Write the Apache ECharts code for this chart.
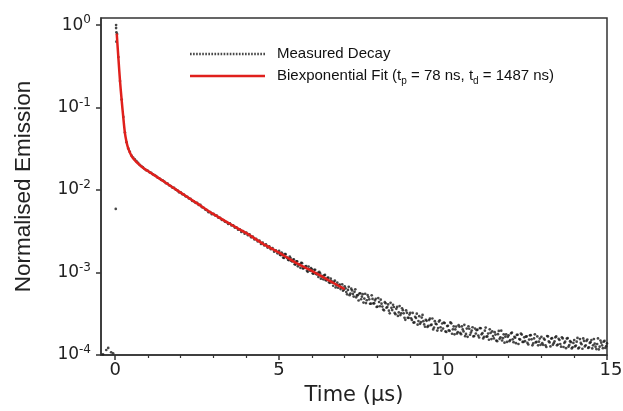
<!DOCTYPE html>
<html>
<head>
<meta charset="utf-8">
<title>Emission decay</title>
<script src="https://cdn.jsdelivr.net/npm/echarts@6.0.0/dist/echarts.min.js"></script>
<style>
  html, body { margin: 0; padding: 0; background: #fff; }
  #chart { width: 623px; height: 411px; }
</style>
</head>
<body>
<div id="chart"></div>
<script>
// measured points before the pulse (time in µs, normalised emission)
var preTrigger = [[-0.37, 1.02e-4], [-0.27, 1.15e-4], [-0.21, 1.22e-4], [-0.12, 1.08e-4], [-0.06, 1.05e-4]];

// measured points during the pulse and fast component
var risePoints = [
  [0.02, 0.0059], [0.03, 1.0], [0.03, 0.92], [0.04, 0.82], [0.04, 0.63], [0.06, 0.78],
  [0.1, 0.41], [0.15, 0.21], [0.2, 0.125], [0.25, 0.077], [0.3, 0.05], [0.35, 0.038],
  [0.4, 0.032], [0.45, 0.029]
];

// measured slow tail
var measuredDecay = [
  [0.5, 0.0262], [0.55, 0.0248], [0.6, 0.0236], [0.65, 0.0224], [0.7, 0.0214], [0.75, 0.0202], [0.8, 0.0195], [0.85, 0.0188], [0.9, 0.0180], [0.95, 0.0174],
  [1.0, 0.0171], [1.05, 0.0164], [1.1, 0.0162], [1.15, 0.0155], [1.2, 0.0152], [1.25, 0.0148], [1.3, 0.0141], [1.35, 0.0139], [1.4, 0.0133], [1.45, 0.0131],
  [1.5, 0.0127], [1.55, 0.0121], [1.6, 0.0120], [1.65, 0.0114], [1.7, 0.0112], [1.75, 0.0107], [1.8, 0.0106], [1.85, 0.0101], [1.9, 0.0099], [1.95, 0.0094],
  [2.0, 0.0094], [2.05, 0.0089], [2.1, 0.0088], [2.15, 0.0084], [2.2, 0.0083], [2.25, 0.0079], [2.3, 0.0078], [2.35, 0.0074], [2.4, 0.0073], [2.45, 0.0070],
  [2.5, 0.0070], [2.55, 0.0066], [2.6, 0.0066], [2.65, 0.0062], [2.7, 0.0061], [2.75, 0.0058], [2.8, 0.0057], [2.85, 0.0054], [2.9, 0.0054], [2.95, 0.0051],
  [3.0, 0.00515], [3.05, 0.00492], [3.1, 0.00489], [3.15, 0.00463], [3.2, 0.00461], [3.25, 0.00436], [3.3, 0.00432], [3.35, 0.00413], [3.4, 0.00408], [3.45, 0.00388],
  [3.5, 0.00395], [3.55, 0.00372], [3.6, 0.00374], [3.65, 0.00351], [3.7, 0.00352], [3.75, 0.00331], [3.8, 0.00334], [3.85, 0.00311], [3.9, 0.00318], [3.95, 0.00296],
  [4.0, 0.00304], [4.05, 0.00284], [4.1, 0.00290], [4.15, 0.00267], [4.2, 0.00273], [4.25, 0.00252], [4.3, 0.00256], [4.35, 0.00238], [4.4, 0.00244], [4.45, 0.00222],
  [4.5, 0.00230], [4.55, 0.00213], [4.6, 0.00220], [4.65, 0.00201], [4.7, 0.00208], [4.75, 0.00192], [4.8, 0.00198], [4.85, 0.00179], [4.9, 0.00186], [4.95, 0.00171],
  [5.0, 0.00183], [5.05, 0.00162], [5.1, 0.00168], [5.15, 0.00150], [5.2, 0.00167], [5.25, 0.00150], [5.3, 0.00141], [5.35, 0.00150], [5.4, 0.00136], [5.45, 0.00144],
  [5.5, 0.00125], [5.55, 0.00137], [5.6, 0.00126], [5.65, 0.00114], [5.7, 0.00130], [5.75, 0.00113], [5.8, 0.00118], [5.85, 0.00105], [5.9, 0.00118], [5.95, 0.00105],
  [6.0, 0.00109], [6.05, 0.000969], [6.1, 0.00108], [6.15, 0.000946], [6.2, 0.000884], [6.25, 0.000983], [6.3, 0.000913], [6.35, 0.000828], [6.4, 0.000936], [6.45, 0.000804],
  [6.5, 0.000867], [6.55, 0.000751], [6.6, 0.000785], [6.65, 0.000691], [6.7, 0.000798], [6.75, 0.000700], [6.8, 0.000654], [6.85, 0.000713], [6.9, 0.000662], [6.95, 0.000601],
  [7.0, 0.000680], [7.05, 0.000580], [7.1, 0.000616], [7.15, 0.000532], [7.2, 0.000637], [7.25, 0.000550], [7.3, 0.000583], [7.35, 0.000500], [7.4, 0.000532], [7.45, 0.000557],
  [7.5, 0.000474], [7.55, 0.000546], [7.6, 0.000483], [7.65, 0.000426], [7.7, 0.000533], [7.75, 0.000473], [7.8, 0.000419], [7.85, 0.000479], [7.9, 0.000423], [7.95, 0.000481],
  [8.0, 0.000387], [8.05, 0.000439], [8.1, 0.000469], [8.15, 0.000387], [8.2, 0.000348], [8.25, 0.000424], [8.3, 0.000382], [8.35, 0.000345], [8.4, 0.000429], [8.45, 0.000351],
  [8.5, 0.000382], [8.55, 0.000313], [8.6, 0.000383], [8.65, 0.000328], [8.7, 0.000305], [8.75, 0.000369], [8.8, 0.000320], [8.85, 0.000267], [8.9, 0.000325], [8.95, 0.000282],
  [9.0, 0.000325], [9.05, 0.000266], [9.1, 0.000247], [9.15, 0.000291], [9.2, 0.000317], [9.25, 0.000258], [9.3, 0.000239], [9.35, 0.000284], [9.4, 0.000257], [9.45, 0.000220],
  [9.5, 0.000260], [9.55, 0.000225], [9.6, 0.000276], [9.65, 0.000233], [9.7, 0.000204], [9.75, 0.000257], [9.8, 0.000236], [9.85, 0.000212], [9.9, 0.000263], [9.95, 0.000198],
  [10.0, 0.000209], [10.05, 0.000244], [10.1, 0.000190], [10.15, 0.000226], [10.2, 0.000196], [10.25, 0.000242], [10.3, 0.000205], [10.35, 0.000178], [10.4, 0.000221], [10.45, 0.000189],
  [10.5, 0.000220], [10.55, 0.000179], [10.6, 0.000204], [10.65, 0.000232], [10.7, 0.000180], [10.75, 0.000166], [10.8, 0.000208], [10.85, 0.000187], [10.9, 0.000217], [10.95, 0.000170],
  [11.0, 0.000182], [11.05, 0.000203], [11.1, 0.000163], [11.15, 0.000211], [11.2, 0.000184], [11.25, 0.000166], [11.3, 0.000215], [11.35, 0.000168], [11.4, 0.000153], [11.45, 0.000185],
  [11.5, 0.000193], [11.55, 0.000159], [11.6, 0.000177], [11.65, 0.000147], [11.7, 0.000196], [11.75, 0.000164], [11.8, 0.000150], [11.85, 0.000178], [11.9, 0.000167], [11.95, 0.000144],
  [12.0, 0.000173], [12.05, 0.000152], [12.1, 0.000187], [12.15, 0.000143], [12.2, 0.000162], [12.25, 0.000175], [12.3, 0.000136], [12.35, 0.000154], [12.4, 0.000177], [12.45, 0.000144],
  [12.5, 0.000147], [12.55, 0.000168], [12.6, 0.000134], [12.65, 0.000173], [12.7, 0.000155], [12.75, 0.000138], [12.8, 0.000178], [12.85, 0.000144], [12.9, 0.000131], [12.95, 0.000158],
  [13.0, 0.000166], [13.05, 0.000133], [13.1, 0.000153], [13.15, 0.000125], [13.2, 0.000168], [13.25, 0.000142], [13.3, 0.000158], [13.35, 0.000133], [13.4, 0.000146], [13.45, 0.000168],
  [13.5, 0.000134], [13.55, 0.000152], [13.6, 0.000126], [13.65, 0.000159], [13.7, 0.000140], [13.75, 0.000121], [13.8, 0.000160], [13.85, 0.000132], [13.9, 0.000143], [13.95, 0.000124],
  [14.0, 0.000152], [14.05, 0.000130], [14.1, 0.000161], [14.15, 0.000123], [14.2, 0.000140], [14.25, 0.000119], [14.3, 0.000148], [14.35, 0.000131], [14.4, 0.000154], [14.45, 0.000124],
  [14.5, 0.000143], [14.55, 0.000120], [14.6, 0.000156], [14.65, 0.000126], [14.7, 0.000136], [14.75, 0.000117], [14.8, 0.000150], [14.85, 0.000131], [14.9, 0.000145], [14.95, 0.000122],
  [15.0, 0.000138]
];

// second sweep of tail points, between the ones above
var measuredDecayB = [
  [5.025, 0.00165], [5.075, 0.00174], [5.125, 0.00152], [5.175, 0.00167], [5.225, 0.00154], [5.275, 0.00143], [5.325, 0.00156], [5.375, 0.00138], [5.425, 0.00142], [5.475, 0.00126],
  [5.525, 0.00137], [5.575, 0.00119], [5.625, 0.00126], [5.675, 0.00131], [5.725, 0.00112], [5.775, 0.00115], [5.825, 0.00120], [5.875, 0.00102], [5.925, 0.00109], [5.975, 0.00113],
  [6.025, 0.000978], [6.075, 0.00108], [6.125, 0.000968], [6.175, 0.000992], [6.225, 0.00102], [6.275, 0.000842], [6.325, 0.000892], [6.375, 0.000922], [6.425, 0.000806], [6.475, 0.000860],
  [6.525, 0.000760], [6.575, 0.000842], [6.625, 0.000753], [6.675, 0.000771], [6.725, 0.000658], [6.775, 0.000754], [6.825, 0.000701], [6.875, 0.000630], [6.925, 0.000719], [6.975, 0.000619],
  [7.025, 0.000643], [7.075, 0.000544], [7.125, 0.000670], [7.175, 0.000556], [7.225, 0.000607], [7.275, 0.000511], [7.325, 0.000626], [7.375, 0.000527], [7.425, 0.000458], [7.475, 0.000561],
  [7.525, 0.000510], [7.575, 0.000432], [7.625, 0.000553], [7.675, 0.000461], [7.725, 0.000505], [7.775, 0.000418], [7.825, 0.000529], [7.875, 0.000422], [7.925, 0.000459], [7.975, 0.000382],
  [8.025, 0.000490], [8.075, 0.000390], [8.125, 0.000419], [8.175, 0.000356], [8.225, 0.000437], [8.275, 0.000374], [8.325, 0.000410], [8.375, 0.000320], [8.425, 0.000373], [8.475, 0.000407],
  [8.525, 0.000324], [8.575, 0.000363], [8.625, 0.000298], [8.675, 0.000392], [8.725, 0.000321], [8.775, 0.000350], [8.825, 0.000283], [8.875, 0.000347], [8.925, 0.000283], [8.975, 0.000309],
  [9.025, 0.000279], [9.075, 0.000324], [9.125, 0.000248], [9.175, 0.000281], [9.225, 0.000233], [9.275, 0.000296], [9.325, 0.000250], [9.375, 0.000306], [9.425, 0.000235], [9.475, 0.000267],
  [9.525, 0.000219], [9.575, 0.000265], [9.625, 0.000230], [9.675, 0.000277], [9.725, 0.000215], [9.775, 0.000240], [9.825, 0.000198], [9.875, 0.000254], [9.925, 0.000217], [9.975, 0.000241],
  [10.025, 0.000247], [10.075, 0.000193], [10.125, 0.000224], [10.175, 0.000199], [10.225, 0.000248], [10.275, 0.000181], [10.325, 0.000222], [10.375, 0.000204], [10.425, 0.000182], [10.475, 0.000230],
  [10.525, 0.000185], [10.575, 0.000222], [10.625, 0.000193], [10.675, 0.000169], [10.725, 0.000209], [10.775, 0.000223], [10.825, 0.000176], [10.875, 0.000198], [10.925, 0.000168], [10.975, 0.000209],
  [11.025, 0.000200], [11.075, 0.000172], [11.125, 0.000212], [11.175, 0.000178], [11.225, 0.000159], [11.275, 0.000197], [11.325, 0.000167], [11.375, 0.000182], [11.425, 0.000205], [11.475, 0.000156],
  [11.525, 0.000170], [11.575, 0.000189], [11.625, 0.000150], [11.675, 0.000179], [11.725, 0.000157], [11.775, 0.000197], [11.825, 0.000160], [11.875, 0.000141], [11.925, 0.000178], [11.975, 0.000166],
  [12.025, 0.000147], [12.075, 0.000183], [12.125, 0.000155], [12.175, 0.000166], [12.225, 0.000139], [12.275, 0.000176], [12.325, 0.000156], [12.375, 0.000182], [12.425, 0.000144], [12.475, 0.000164],
  [12.525, 0.000167], [12.575, 0.000140], [12.625, 0.000154], [12.675, 0.000174], [12.725, 0.000131], [12.775, 0.000159], [12.825, 0.000142], [12.875, 0.000168], [12.925, 0.000145], [12.975, 0.000133],
  [13.025, 0.000139], [13.075, 0.000158], [13.125, 0.000131], [13.175, 0.000170], [13.225, 0.000146], [13.275, 0.000127], [13.325, 0.000160], [13.375, 0.000139], [13.425, 0.000164], [13.475, 0.000131],
  [13.525, 0.000157], [13.575, 0.000136], [13.625, 0.000164], [13.675, 0.000125], [13.725, 0.000145], [13.775, 0.000158], [13.825, 0.000126], [13.875, 0.000147], [13.925, 0.000120], [13.975, 0.000140],
  [14.025, 0.000127], [14.075, 0.000145], [14.125, 0.000120], [14.175, 0.000156], [14.225, 0.000135], [14.275, 0.000159], [14.325, 0.000127], [14.375, 0.000148], [14.425, 0.000122], [14.475, 0.000140],
  [14.525, 0.000152], [14.575, 0.000131], [14.625, 0.000137], [14.675, 0.000118], [14.725, 0.000159], [14.775, 0.000126], [14.825, 0.000141], [14.875, 0.000121], [14.925, 0.000148], [14.975, 0.000128]
];

// biexponential fit
var fitTime = [0.05, 0.1, 0.15, 0.2, 0.25, 0.3, 0.35, 0.4, 0.5, 0.6, 0.7, 0.85, 1.0, 1.5, 2.0, 2.5, 3.0, 3.5, 4.0, 4.5, 5.0, 5.5, 6.0, 6.5, 7.0];
var fitValue = [0.79, 0.40, 0.21, 0.123, 0.076, 0.049, 0.038, 0.032, 0.026, 0.023, 0.021, 0.0186, 0.017, 0.0126, 0.0093, 0.0069, 0.0051, 0.0039, 0.0030, 0.00224, 0.00174, 0.00132, 0.00105, 0.00081, 0.00063];

// axis ticks
var yTicks = [1e-4, 1e-3, 1e-2, 1e-1, 1];
var xMajorTicks = [0, 5, 10, 15];
var xMinorTicks = [1, 2, 3, 4, 6, 7, 8, 9, 11, 12, 13, 14];

var dom = document.getElementById('chart');
var myChart = echarts.init(dom, null, { renderer: 'canvas' });

var axisColor = '#333';
var xMin = -0.43;
var xMax = 15;

// dotted legend icon, a row of small squares
var dotPath = 'path://';
for (var i = 0; i < 25; i++) {
  dotPath += 'M' + (i * 3) + ',0h1.6v1.6h-1.6z';
}

var fitData = fitTime.map(function (t, i) { return [t, fitValue[i]]; });

var option = {
  animation: false,
  backgroundColor: '#fff',
  grid: {
    left: 101,
    right: 16,
    top: 18,
    bottom: 56,
    show: true,
    borderColor: axisColor,
    borderWidth: 1.5,
    outerBoundsMode: 'none'
  },
  legend: {
    orient: 'vertical',
    left: 185,
    top: 39,
    itemWidth: 75,
    itemHeight: 2.5,
    itemGap: 2,
    symbolKeepAspect: false,
    data: [
      { name: 'Measured Decay', icon: dotPath },
      { name: 'Biexponential Fit', icon: 'path://M0,0h75v2.5h-75z' }
    ],
    formatter: function (name) {
      if (name === 'Biexponential Fit') {
        return 'Biexponential Fit (t{sub|p} = 78 ns, t{sub|d} = 1487 ns)';
      }
      return name;
    },
    textStyle: {
      fontFamily: 'Liberation Sans',
      fontSize: 15,
      color: '#111',
      lineHeight: 20,
      padding: [0, 0, 0, 7],
      rich: {
        sub: { fontFamily: 'Liberation Sans', fontSize: 10, color: '#111', verticalAlign: 'bottom', lineHeight: 14 }
      }
    }
  },
  xAxis: [
    {
      type: 'value',
      min: xMin,
      max: xMax,
      name: 'Time (µs)',
      nameLocation: 'middle',
      nameGap: 30,
      nameTextStyle: { fontFamily: 'DejaVu Sans', fontSize: 21, color: '#222' },
      axisLine: { show: true, onZero: false, lineStyle: { color: axisColor, width: 1.5 } },
      axisTick: { show: true, customValues: xMajorTicks, length: 5, lineStyle: { color: axisColor, width: 1.5 } },
      axisLabel: {
        customValues: xMajorTicks,
        margin: 6,
        fontFamily: 'DejaVu Sans',
        fontSize: 18,
        color: '#222',
        formatter: function (v) {
          if (v === 15) return '{r|15}';
          return String(v);
        },
        rich: { r: { fontFamily: 'DejaVu Sans', fontSize: 18, color: '#222', padding: [0, 0, 0, 8] } }
      },
      splitLine: { show: false }
    },
    {
      type: 'value',
      min: xMin,
      max: xMax,
      position: 'bottom',
      axisLine: { show: false, onZero: false },
      axisTick: { show: true, customValues: xMinorTicks, length: 3, lineStyle: { color: axisColor, width: 1.2 } },
      axisLabel: { show: false },
      splitLine: { show: false }
    }
  ],
  yAxis: {
    type: 'log',
    logBase: 10,
    min: 1e-4,
    max: 1.22,
    name: 'Normalised Emission',
    nameLocation: 'middle',
    nameRotate: 90,
    nameGap: 66,
    nameTextStyle: { fontFamily: 'Liberation Sans', fontSize: 22.5, color: '#222' },
    axisLine: { show: true, onZero: false, lineStyle: { color: axisColor, width: 1.5 } },
    axisTick: { show: true, customValues: yTicks, length: 5, lineStyle: { color: axisColor, width: 1.5 } },
    axisLabel: {
      customValues: yTicks,
      margin: 10,
      formatter: function (v) {
        return '{b|10}{s|' + Math.round(Math.log10(v)) + '}';
      },
      rich: {
        b: { fontFamily: 'DejaVu Sans', fontSize: 17, color: '#222', lineHeight: 22 },
        s: { fontFamily: 'DejaVu Sans', fontSize: 12, color: '#222', verticalAlign: 'top', lineHeight: 14 }
      }
    },
    splitLine: { show: false }
  },
  series: [
    {
      name: 'Measured Decay',
      type: 'scatter',
      symbol: 'circle',
      symbolSize: 2.7,
      itemStyle: { color: '#1a1a1a' },
      data: preTrigger.concat(risePoints, measuredDecay, measuredDecayB)
    },
    {
      name: 'Biexponential Fit',
      type: 'line',
      smooth: 0.3,
      showSymbol: false,
      itemStyle: { color: '#e0201c' },
      lineStyle: { color: '#e0201c', width: 2.5 },
      data: fitData
    }
  ]
};

if (option && typeof option === 'object') {
  myChart.setOption(option);
}

window.addEventListener('resize', myChart.resize);
</script>
</body>
</html>
